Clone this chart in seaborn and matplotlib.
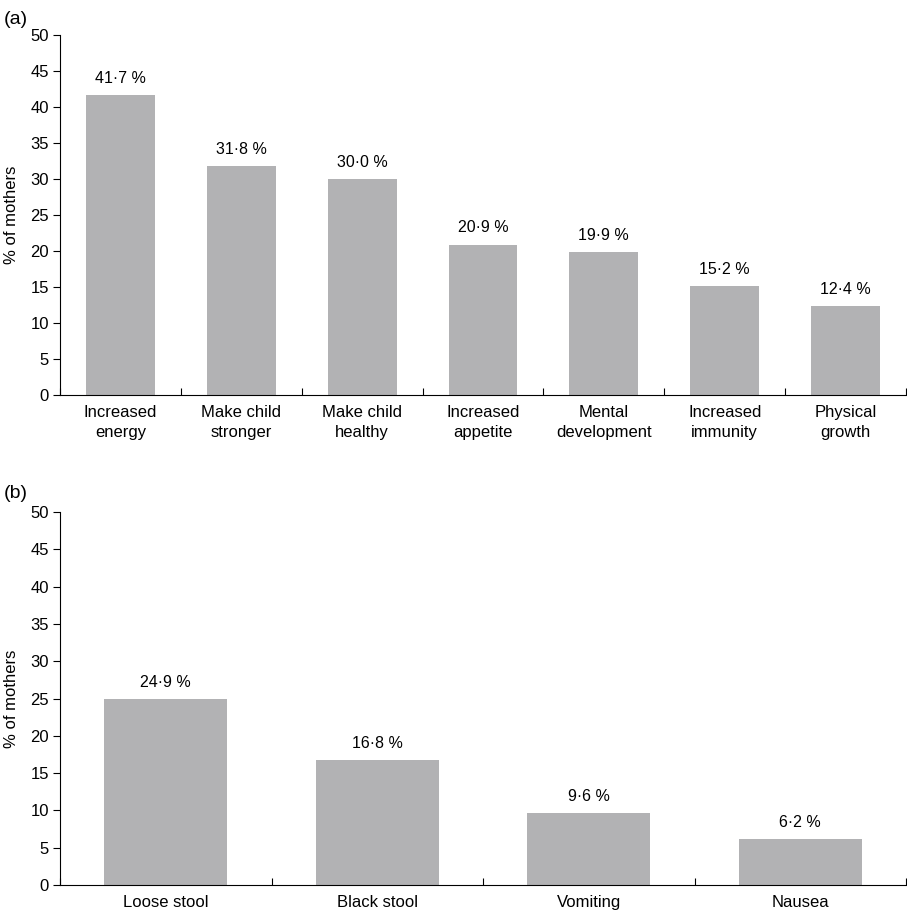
import numpy as np
import seaborn as sns
import matplotlib.pyplot as plt

# datos de los dos paneles
beneficios = ['Increased\nenergy', 'Make child\nstronger', 'Make child\nhealthy',
              'Increased\nappetite', 'Mental\ndevelopment', 'Increased\nimmunity',
              'Physical\ngrowth']
valores_a = [41.7, 31.8, 30.0, 20.9, 19.9, 15.2, 12.4]

efectos = ['Loose stool', 'Black stool', 'Vomiting', 'Nausea']
valores_b = [24.9, 16.8, 9.6, 6.2]

yticks = list(range(0, 55, 5))

sns.set_style('ticks')
plt.rcParams['font.family'] = ['Liberation Sans', 'DejaVu Sans']
plt.rcParams['text.color'] = 'black'
plt.rcParams['axes.labelcolor'] = 'black'
plt.rcParams['xtick.color'] = 'black'
plt.rcParams['ytick.color'] = 'black'
plt.rcParams['axes.edgecolor'] = 'black'

color_barra = '#b2b2b4'

fig = plt.figure(figsize=(9.07, 9.11), dpi=100)
ax_a = fig.add_axes([0.0662, 0.5664, 0.9327, 0.3952])
ax_b = fig.add_axes([0.0662, 0.0285, 0.9327, 0.4094])


def dibujar_panel(ax, categorias, valores, ancho):
    sns.barplot(x=categorias, y=valores, color=color_barra, saturation=1,
                width=ancho, linewidth=0, ax=ax)
    etiquetas = [f'{v:.1f}'.replace('.', '\u00b7') + ' %' for v in valores]
    ax.bar_label(ax.containers[0], labels=etiquetas, padding=6.5, fontsize=11.5)

    n = len(categorias)
    ax.set_xlim(-0.5, n - 0.5)
    ax.set_ylim(0, 50)
    ax.set_yticks(yticks)
    ax.tick_params(axis='y', direction='out', length=5, width=0.8,
                   labelsize=12, pad=3)
    ax.tick_params(axis='x', which='major', length=0, labelsize=12, pad=7)
    ax.set_xticks(np.arange(n + 1) - 0.5, minor=True)
    ax.tick_params(axis='x', which='minor', direction='in', length=5, width=0.8)
    for lab in ax.get_xticklabels():
        lab.set_linespacing(1.45)

    sns.despine(ax=ax)
    ax.spines['left'].set_linewidth(0.8)
    ax.spines['bottom'].set_linewidth(0.8)
    ax.set_ylabel('% of mothers', fontsize=12)
    ax.yaxis.set_label_coords(-0.049, 0.5)


dibujar_panel(ax_a, beneficios, valores_a, 0.57)
dibujar_panel(ax_b, efectos, valores_b, 0.58)

fig.text(0.004, 0.979, '(a)', fontsize=14, va='center', ha='left')
fig.text(0.004, 0.458, '(b)', fontsize=14, va='center', ha='left')

fig.savefig('out.png', dpi=100)
